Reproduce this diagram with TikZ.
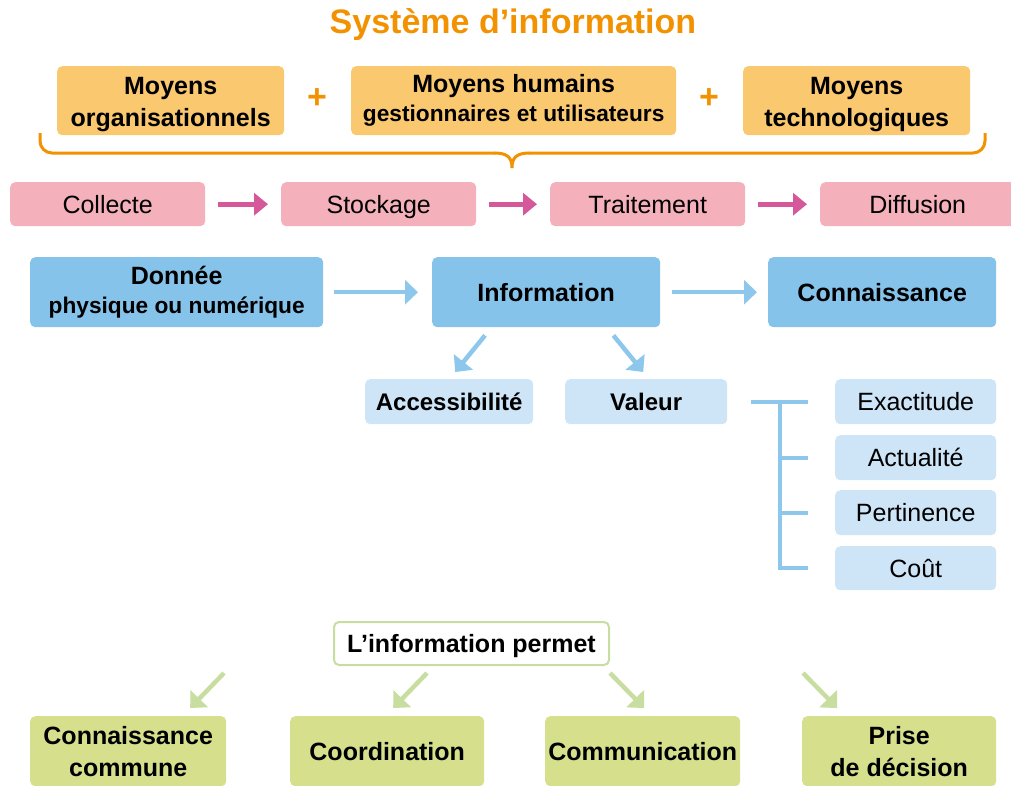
\documentclass[tikz,border=0pt]{standalone}
\usepackage{fontspec}
\setmainfont{Liberation Sans}
\usetikzlibrary{arrows.meta}
\definecolor{orT}{HTML}{F39200}
\definecolor{orBox}{HTML}{F9C86F}
\definecolor{pkBox}{HTML}{F5B1BB}
\definecolor{pkArr}{HTML}{D4589A}
\definecolor{blBox}{HTML}{85C3EA}
\definecolor{blArr}{HTML}{8DC8EC}
\definecolor{lbBox}{HTML}{CDE5F7}
\definecolor{grBox}{HTML}{D6E08C}
\definecolor{grArr}{HTML}{C8DDA0}
\newcommand{\mainsz}{\fontsize{25}{29}\selectfont}
\newcommand{\tallsz}{\fontsize{25}{32}\selectfont}
\newcommand{\subsz}{\fontsize{22.7}{27}\selectfont}
\begin{document}
\begin{tikzpicture}[x=1pt,y=-1pt,
  box/.style={rounded corners=5pt, inner sep=0pt, anchor=north west, align=center, text=black},
  one/.style={text height=20pt, text depth=2pt},
  obox/.style={box, fill=orBox, font=\bfseries\tallsz},
  pbox/.style={box, one, fill=pkBox, font=\mainsz, minimum width=195pt, minimum height=44pt},
  bbox/.style={box, fill=blBox, font=\bfseries\mainsz, minimum height=70pt},
  lbox/.style={box, fill=lbBox, minimum height=45pt},
  gbox/.style={box, fill=grBox, font=\bfseries\tallsz, minimum height=70pt},
  pkarrow/.style={draw=pkArr, line width=5pt, -{Triangle[length=14pt,width=22pt]}, shorten <=13pt, shorten >=13pt},
  blarrow/.style={draw=blArr, line width=4.5pt, -{Triangle[length=13pt,width=24pt]}},
  blline/.style={draw=blArr, line width=4pt},
  grarrow/.style={draw=grArr, line width=4.5pt, -{Triangle[length=13pt,width=24pt]}},
  plus/.style={text=orT, font=\bfseries\fontsize{34}{34}\selectfont, inner sep=0pt}
]
\useasboundingbox (0,0) rectangle (1011,785);

% title
\node[text=orT, font=\bfseries\fontsize{34}{40}\selectfont, inner sep=0pt] (title) at (513,25) {Système d’information};

% orange row
\node[obox, text height=55pt, text depth=4pt, minimum width=227pt, minimum height=69pt] (org) at (57,66) {Moyens\\organisationnels};
\node[obox, minimum width=325pt, minimum height=69pt, font=\bfseries\mainsz] (hum) at (351,66) {Moyens humains\\{\subsz gestionnaires et utilisateurs}};
\node[obox, text height=55pt, text depth=4pt, minimum width=227pt, minimum height=69pt] (tech) at (743,66) {Moyens\\technologiques};
\node[plus] (p1) at (317,99) {+};
\node[plus] (p2) at (709,99) {+};

% brace
\draw[orT, line width=3pt, rounded corners=12pt] (40,133) -- (40,153) -- (495,153);
\draw[orT, line width=3pt] (494,153) .. controls (507,153) and (512,157) .. (512,168)
  .. controls (512,157) and (517,153) .. (530,153);
\draw[orT, line width=3pt, rounded corners=12pt] (529,153) -- (985,153) -- (985,133);

% pink row
\node[pbox] (col) at (10,182) {Collecte};
\node[pbox] (sto) at (281,182) {Stockage};
\node[pbox] (tra) at (550,182) {Traitement};
\node[pbox] (dif) at (820,182) {Diffusion};
\draw[pkarrow] (col) -- (sto);
\draw[pkarrow] (sto) -- (tra);
\draw[pkarrow] (tra) -- (dif);

% blue row
\node[bbox, minimum width=293pt] (don) at (30,257) {Donnée\\{\subsz physique ou numérique}};
\node[bbox, one, minimum width=228pt] (info) at (432,257) {Information};
\node[bbox, one, minimum width=228pt] (con) at (768,257) {Connaissance};
\draw[blarrow, shorten <=11pt, shorten >=14pt] (don.east) -- (don.east -| info.west);
\draw[blarrow, shorten <=12pt, shorten >=11pt] (info.east) -- (info.east -| con.west);

% light blue
\node[lbox, one, minimum width=168pt, font=\bfseries\fontsize{24}{28}\selectfont] (acc) at (365,379) {Accessibilité};
\node[lbox, one, minimum width=162pt, font=\bfseries\fontsize{24}{28}\selectfont] (val) at (565,379) {Valeur};
\draw[blarrow] ([xshift=53pt,yshift=-8pt]info.south west) -- ([xshift=6pt,yshift=7pt]acc.north);
\draw[blarrow] ([xshift=-47pt,yshift=-8pt]info.south east) -- ([xshift=-3pt,yshift=7pt]val.north);

\node[lbox, one, minimum width=161pt, font=\mainsz] (exa) at (835,379) {Exactitude};
\node[lbox, one, minimum width=161pt, font=\mainsz] (act) at (835,435) {Actualité};
\node[lbox, one, minimum width=161pt, font=\mainsz] (per) at (835,490) {Pertinence};
\node[lbox, one, minimum width=161pt, font=\mainsz, minimum height=44pt] (cou) at (835,546) {Coût};
\coordinate (trunk) at (780,401.5);
\draw[blline] ([xshift=24pt]val.east) -- ([xshift=-27pt]exa.west);
\draw[blline] (trunk) -- (trunk |- cou.west);
\draw[blline] (trunk |- act.west) -- ([xshift=-27pt]act.west);
\draw[blline] (trunk |- per.west) -- ([xshift=-27pt]per.west);
\draw[blline] ([xshift=-2pt]trunk |- cou.west) -- ([xshift=-27pt]cou.west);

% green
\node[box, one, draw=grArr, line width=2pt, fill=white, minimum width=275pt, minimum height=43pt, font=\bfseries\mainsz] (perm) at (333,621) {L’information permet};
\node[gbox, minimum width=196pt] (cc) at (30,716) {Connaissance\\commune};
\node[gbox, one, minimum width=194pt] (coo) at (290,716) {Coordination};
\node[gbox, one, minimum width=195pt] (com) at (545,716) {Communication};
\node[gbox, minimum width=194pt] (pri) at (802,716) {Prise\\de décision};
\draw[grarrow] ([xshift=-109pt,yshift=-7pt]perm.south west) -- ([xshift=62pt,yshift=8pt]cc.north);
\draw[grarrow] ([xshift=94pt,yshift=-7pt]perm.south west) -- ([xshift=6pt,yshift=8pt]coo.north);
\draw[grarrow] ([xshift=277pt,yshift=-7pt]perm.south west) -- ([xshift=1.5pt,yshift=8pt]com.north);
\draw[grarrow] ([xshift=470pt,yshift=-7pt]perm.south west) -- ([xshift=-62pt,yshift=8pt]pri.north);
\end{tikzpicture}
\end{document}
